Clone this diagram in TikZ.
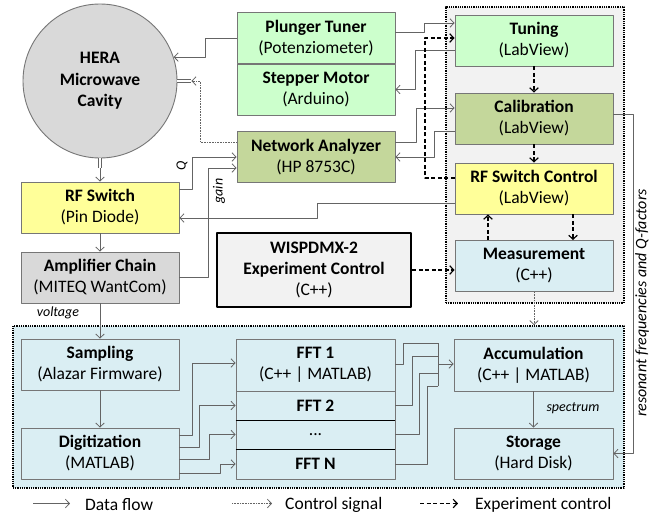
\documentclass[tikz,border=0pt]{standalone}
\usepackage{fontspec}
\setmainfont{Carlito}
\usetikzlibrary{arrows.meta}

\definecolor{tunegreen}{RGB}{204,255,204}
\definecolor{calgreen}{RGB}{196,215,155}
\definecolor{swyellow}{RGB}{255,255,153}
\definecolor{cavgray}{RGB}{217,217,217}
\definecolor{measblue}{RGB}{218,238,243}
\definecolor{ctrlbg}{RGB}{242,242,242}
\definecolor{edgegray}{RGB}{118,118,118}
\definecolor{wiregray}{RGB}{100,100,100}

\tikzstyle{block} = [draw=edgegray, line width=0.9pt, align=center, inner sep=0pt, minimum width=158pt, minimum height=51pt, font=\fontsize{17.5}{21}\selectfont]
\tikzstyle{flow} = [draw=wiregray, line width=0.8pt]
\tikzstyle{ctrl} = [draw=wiregray, line width=0.8pt, dash pattern=on 0.8pt off 0.8pt]
\tikzstyle{expc} = [draw=black, line width=1.2pt, dash pattern=on 4pt off 2.5pt]
\tikzstyle{port} = [draw=wiregray, double=white, double distance=2pt, line width=0.7pt]
\tikzstyle{grp} = [draw=black, line width=1.8pt, dash pattern=on 0.9pt off 0.9pt, inner sep=0pt]
\tikzstyle{tag} = [font=\fontsize{14}{16}\selectfont\itshape, inner sep=0pt]
\tikzstyle{legend} = [font=\fontsize{17.5}{21}\selectfont, anchor=west, inner sep=0pt]

\begin{document}
\begin{tikzpicture}[x=1pt, y=-1pt, line join=round, >={Straight Barb[length=4pt,width=8.5pt]}]
      \useasboundingbox (0,0) rectangle (652,517);
      % groups
      \node[grp, fill=ctrlbg, minimum width=178pt, minimum height=296pt] (ctrlgrp) at (535,155) {};
      \node[grp, fill=measblue, minimum width=611pt, minimum height=162pt] (acqgrp) at (318.5,407) {};
      % cavity and hardware
      \node[draw=edgegray, line width=0.9pt, circle, fill=cavgray, minimum size=154pt, inner sep=0pt, align=center, font=\fontsize{17.5}{21.5}\selectfont\bfseries] (cavity) at (100,81) {HERA\\Microwave\\Cavity};
      \node[block, fill=tunegreen] (plunger) at (316,38) {\textbf{Plunger Tuner}\\(Potenziometer)};
      \node[block, fill=tunegreen] (stepper) at (316,89.5) {\textbf{Stepper Motor}\\(Arduino)};
      \node[block, fill=calgreen] (netan) at (316,157) {\textbf{Network Analyzer}\\(HP 8753C)};
      \node[block, fill=swyellow] (rfswitch) at (100,207.5) {\textbf{RF Switch}\\(Pin Diode)};
      \node[block, fill=cavgray] (amp) at (100,277.5) {\textbf{Amplifier Chain}\\(MITEQ WantCom)};
      \node[block, fill=ctrlbg, draw=black, line width=2.5pt, minimum width=194pt, minimum height=74pt] (wisp) at (314,270) {\textbf{WISPDMX-2}\\\textbf{Experiment Control}\\(C++)};
      % control software
      \node[block, fill=tunegreen] (tuning) at (534,40.5) {\textbf{Tuning}\\(LabView)};
      \node[block, fill=calgreen] (calib) at (534,118.5) {\textbf{Calibration}\\(LabView)};
      \node[block, fill=swyellow] (rfsc) at (534,188.5) {\textbf{RF Switch Control}\\(LabView)};
      \node[block, fill=measblue] (meas) at (534,266) {\textbf{Measurement}\\(C++)};
      % acquisition
      \node[block, fill=measblue] (sampling) at (100,364.5) {\textbf{Sampling}\\(Alazar Firmware)};
      \node[block, fill=measblue] (digit) at (100,453.5) {\textbf{Digitization}\\(MATLAB)};
      \node[block, fill=measblue, minimum width=159pt, minimum height=52pt] (fft1) at (315.5,365) {\textbf{FFT 1}\\(C++ | MATLAB)};
      \node[block, fill=measblue, minimum width=159pt, minimum height=29pt] (fft2) at (315.5,405.5) {\textbf{FFT 2}};
      \node[block, fill=measblue, minimum width=159pt, minimum height=29pt] (fftdots) at (315.5,434.5) {...};
      \node[block, fill=measblue, minimum width=159pt, minimum height=30pt] (fftN) at (315.5,464) {\textbf{FFT N}};
      \node[block, fill=measblue, minimum width=159pt, minimum height=52pt] (accum) at (533.5,365) {\textbf{Accumulation}\\(C++ | MATLAB)};
      \node[block, fill=measblue, minimum width=159pt] (storage) at (533.5,453.5) {\textbf{Storage}\\(Hard Disk)};
      \draw[line width=1.3pt] (fft2.south west) -- (fft2.south east);
      \draw[line width=1.3pt] (fftdots.south west) -- (fftdots.south east);
      % cavity ports
      \draw[port] (cavity.east) -- ++(14,0) coordinate (portR);
      \draw[port] (cavity.south) -- ++(0,10) coordinate (portB);
      % hardware links
      \draw[flow,<-] (cavity.18) -| (205,38) -- (plunger.west);
      \draw[ctrl,->] ([yshift=15pt]netan.west) -| (200,81) -- (portR);
      \draw[flow,->] (portB) -- (rfswitch.north);
      \draw[flow,->] (rfswitch.south) -- (amp.north);
      \draw[flow,->] ([yshift=18.5pt]rfswitch.east) -| (192,157) -- (netan.west);
      \draw[flow,->] (amp.east) -| (208,168) -- ([yshift=-11pt]netan.west);
      \draw[flow,->] ([yshift=-14.5pt]rfsc.west) -| (317,218) -- ([yshift=-10.5pt]rfswitch.east);
      \draw[flow,->] ([yshift=6pt]plunger.east) -| (424,23) -- ([yshift=17.5pt]tuning.west);
      \draw[flow,->] ([yshift=-9.5pt]tuning.west) -| (415,89.5) -- (stepper.east);
      \draw[flow,->] ([yshift=15pt]netan.east) -| (416,108) -- ([yshift=10.5pt]calib.west);
      \draw[flow,->] ([yshift=-12.5pt]calib.west) -| (434,157) -- (netan.east);
      \node[tag, rotate=90] (qtag) at (182,166) {Q};
      \node[tag, rotate=90] (gaintag) at (219,191) {gain};
      % experiment control
      \draw[expc,->] ([yshift=10.5pt]rfsc.west) -| (425,38) -- ([yshift=2.5pt]tuning.west);
      \draw[expc,->] (tuning.south) -- (calib.north);
      \draw[expc,->] (calib.south) -- (rfsc.north);
      \draw[expc,->] ([xshift=-46pt]meas.north) -- ([xshift=-46pt]rfsc.south);
      \draw[expc,->] ([xshift=39pt]rfsc.south) -- ([xshift=39pt]meas.north);
      \draw[expc,->] (wisp.east) -- (wisp.east -| meas.west);
      \draw[ctrl,->] (meas.south) -- (meas.south |- acqgrp.north);
      \draw[flow,->] ([yshift=4.5pt]calib.east) -| (633,453.5) -- (storage.east);
      \node[font=\fontsize{16}{19}\selectfont\itshape, rotate=90, inner sep=0pt] (reslabel) at (642,303) {resonant frequencies and Q-factors};
      % data acquisition
      \draw[flow,->] (amp.south) -- (sampling.north);
      \node[tag] (volttag) at (58,313) {voltage};
      \draw[flow,->] (sampling.south) -- (digit.north);
      \draw[flow,->] ([yshift=18.5pt]digit.east) -| (192,363) -- ([yshift=2pt]fft1.west);
      \draw[flow,->] ([yshift=6.5pt]digit.east) -| (199,405.5) -- (fft2.west);
      \draw[flow,->] ([yshift=-5.5pt]digit.east) -| (209,434.5) -- (fftdots.west);
      \draw[flow,->] ([yshift=-19.5pt]digit.east) -| (220,464) -- (fftN.west);
      \draw[flow] ([yshift=1pt]fft1.east) -| (403,343) -- (438,343);
      \draw[flow] (fft2.east) -| (412,356) -- (438,356);
      \draw[flow] (fftdots.east) -| (419,373) -- (438,373);
      \draw[flow] (fftN.east) -| (427,386) -- (438,386);
      \draw[flow] (438,343) -- (438,386);
      \coordinate (merge) at (438,364);
      \draw[flow,->] (merge) -- (merge -| accum.west);
      \draw[flow,->] (accum.south) -- (storage.north);
      \node[tag] (spectag) at (573,408) {spectrum};
      % legend
      \node[legend] (lgflow) at (85,505) {Data flow};
      \node[legend] (lgctrl) at (285,505) {Control signal};
      \node[legend] (lgexp) at (475,505) {Experiment control};
      \draw[flow,->] ([xshift=-52pt,yshift=1.5pt]lgflow.west) -- ([xshift=-15pt,yshift=1.5pt]lgflow.west);
      \draw[ctrl,->] ([xshift=-53pt,yshift=1.5pt]lgctrl.west) -- ([xshift=-13pt,yshift=1.5pt]lgctrl.west);
      \draw[expc,->] ([xshift=-55pt,yshift=1.5pt]lgexp.west) -- ([xshift=-17pt,yshift=1.5pt]lgexp.west);
    \end{tikzpicture}
\end{document}
